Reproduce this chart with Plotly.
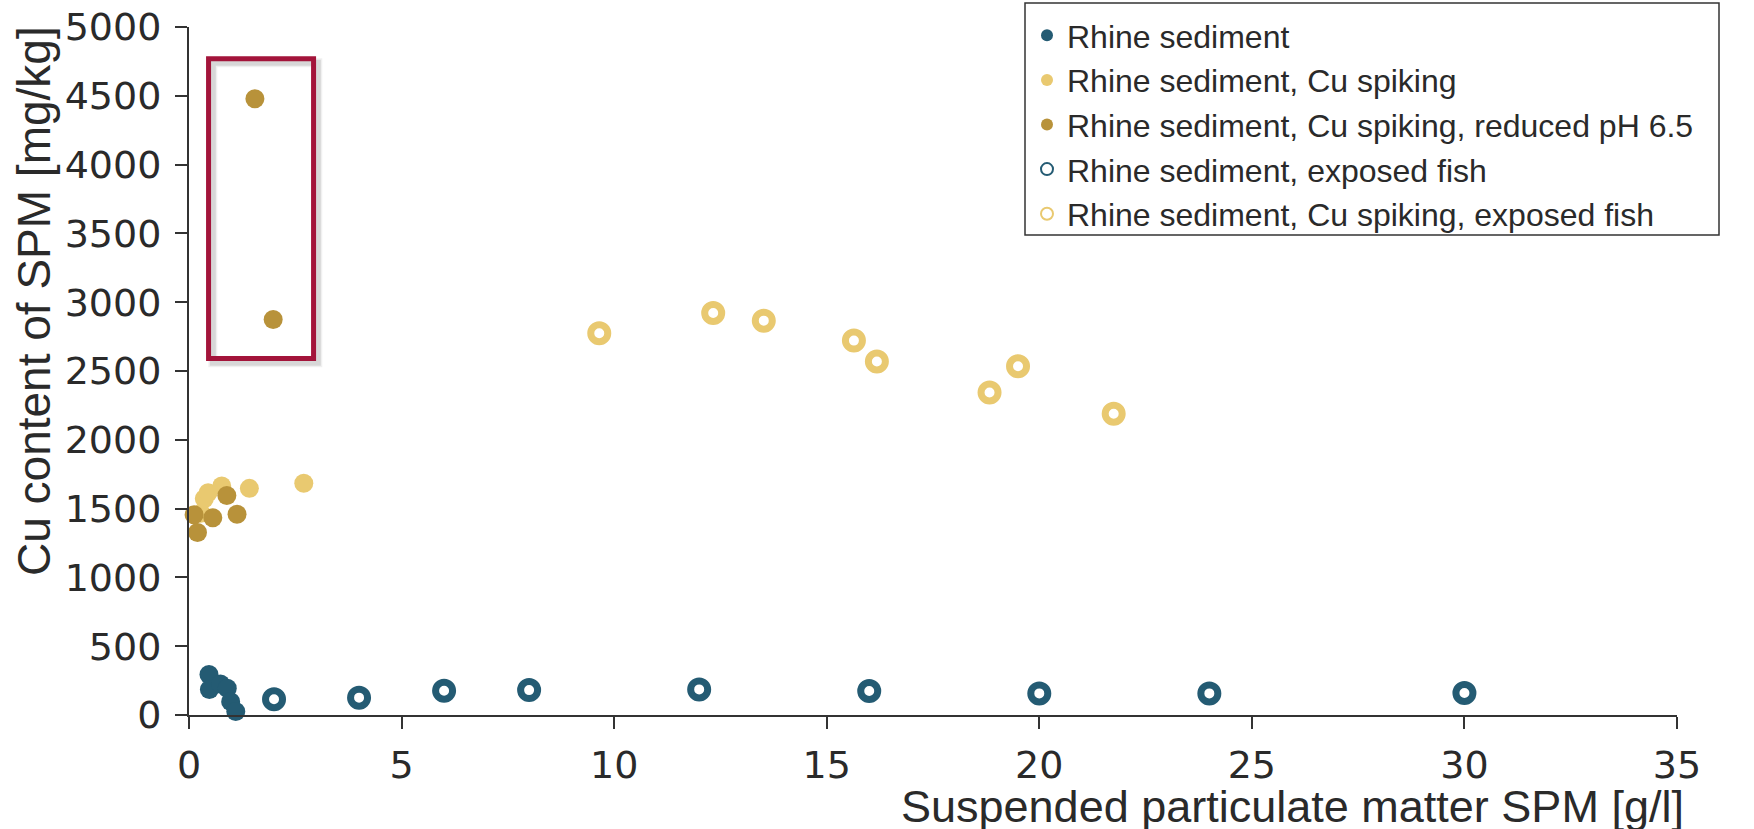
import plotly.graph_objects as go

# ---------------- data ----------------
rhine_x = [0.47, 0.48, 0.74, 0.90, 0.98, 1.10]
rhine_y = [295, 185, 225, 195, 97, 25]

spike_x = [0.28, 0.36, 0.45, 0.77, 1.42, 2.70]
spike_y = [1466, 1572, 1616, 1665, 1647, 1684]

ph_x = [0.12, 0.20, 0.56, 0.89, 1.13, 1.55, 1.98]
ph_y = [1455, 1326, 1434, 1595, 1459, 4478, 2874]

fish_x = [2, 4, 6, 8, 12, 16, 20, 24, 30]
fish_y = [114, 126, 176, 181, 186, 174, 157, 157, 160]

spikefish_x = [9.65, 12.33, 13.52, 15.64, 16.18, 18.83, 19.50, 21.75]
spikefish_y = [2774, 2922, 2866, 2721, 2569, 2344, 2535, 2189]

names = [
    "Rhine sediment",
    "Rhine sediment, Cu spiking",
    "Rhine sediment, Cu spiking, reduced pH 6.5",
    "Rhine sediment, exposed fish",
    "Rhine sediment, Cu spiking, exposed fish",
]

x_ticks = [0, 5, 10, 15, 20, 25, 30, 35]
y_ticks = [0, 500, 1000, 1500, 2000, 2500, 3000, 3500, 4000, 4500, 5000]

box_x = [0.46, 2.93]
box_y = [2590, 4770]

# ---------------- style ----------------
TEAL = "#245b73"
LIGHT = "#e9c970"
DARK = "#b8923a"
RED = "#a3143a"
AX = "#333333"

W, H = 1754, 829
ML, MR, MT, MB = 189, 77, 27, 114
PW, PH = W - ML - MR, H - MT - MB

def px_to_paper_x(px):
    return (px - ML) / PW

def px_to_paper_y(py):
    return (H - MB - py) / PH

fig = go.Figure()
fig.add_trace(go.Scatter(x=rhine_x, y=rhine_y, mode="markers", name=names[0],
                         marker=dict(symbol="circle", size=19, color=TEAL), cliponaxis=False))
fig.add_trace(go.Scatter(x=spike_x, y=spike_y, mode="markers", name=names[1],
                         marker=dict(symbol="circle", size=19, color=LIGHT), cliponaxis=False))
fig.add_trace(go.Scatter(x=ph_x, y=ph_y, mode="markers", name=names[2],
                         marker=dict(symbol="circle", size=19, color=DARK), cliponaxis=False))
fig.add_trace(go.Scatter(x=fish_x, y=fish_y, mode="markers", name=names[3],
                         marker=dict(symbol="circle-open", size=17, color=TEAL,
                                     line=dict(width=7, color=TEAL)), cliponaxis=False))
fig.add_trace(go.Scatter(x=spikefish_x, y=spikefish_y, mode="markers", name=names[4],
                         marker=dict(symbol="circle-open", size=17, color=LIGHT,
                                     line=dict(width=7, color=LIGHT)), cliponaxis=False))

# red highlight box with soft shadow
dx, dy = 0.10, 30
for w, c in [(9, "rgba(0,0,0,0.06)"), (6, "rgba(0,0,0,0.10)")]:
    fig.add_shape(type="rect", xref="x", yref="y",
                  x0=box_x[0] + dx, x1=box_x[1] + dx, y0=box_y[0] - dy, y1=box_y[1] - dy,
                  line=dict(color=c, width=w), layer="below")
fig.add_shape(type="rect", xref="x", yref="y",
              x0=box_x[0], x1=box_x[1], y0=box_y[0], y1=box_y[1],
              line=dict(color=RED, width=5))

# legend frame
fig.add_shape(type="rect", xref="paper", yref="paper",
              x0=px_to_paper_x(1025), x1=px_to_paper_x(1719),
              y0=px_to_paper_y(235), y1=px_to_paper_y(3),
              line=dict(color=AX, width=1.5), layer="above")

tickfont = dict(family="DejaVu Sans", size=38, color="#2a2a2a")
fig.update_xaxes(range=[0, 35], tickvals=x_ticks, showgrid=False, zeroline=False,
                 showline=True, linecolor=AX, linewidth=2, ticks="outside", ticklen=12,
                 tickwidth=2, tickcolor=AX, tickfont=tickfont, ticklabelstandoff=3)
fig.update_yaxes(range=[0, 5000], tickvals=y_ticks, showgrid=False, zeroline=False,
                 showline=True, linecolor=AX, linewidth=2, ticks="outside", ticklen=12,
                 tickwidth=2, tickcolor=AX, tickfont=tickfont, ticklabelstandoff=6)

titlefont = dict(family="Liberation Sans", size=45, color="#2a2a2a")
fig.add_annotation(text="Suspended particulate matter SPM [g/l]", xref="paper", yref="paper",
                   x=px_to_paper_x(1686), y=px_to_paper_y(806), xanchor="right", yanchor="middle",
                   showarrow=False, font=titlefont)
fig.add_annotation(text="Cu content of SPM [mg/kg]", xref="paper", yref="paper",
                   x=px_to_paper_x(34), y=px_to_paper_y(24), xanchor="center", yanchor="top",
                   textangle=-90, showarrow=False, font=dict(family="Liberation Sans", size=46, color="#2a2a2a"))

fig.update_layout(
    width=W, height=H,
    margin=dict(l=ML, r=MR, t=MT, b=MB, autoexpand=False),
    paper_bgcolor="white", plot_bgcolor="white",
    showlegend=True,
    legend=dict(xref="container", yref="container",
                x=1027 / W, y=1 - 8 / H, xanchor="left", yanchor="top",
                borderwidth=0, bgcolor="rgba(0,0,0,0)",
                font=dict(family="Liberation Sans", size=32, color="#2a2a2a"),
                itemsizing="constant"),
)

fig.write_html("out.html")
